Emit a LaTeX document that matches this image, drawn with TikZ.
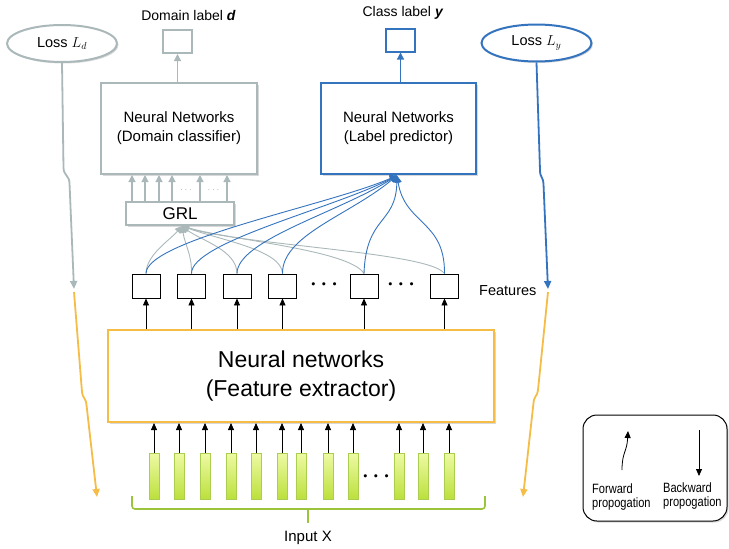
\documentclass[tikz,border=0pt]{standalone}
\usepackage{fontspec}
\setmainfont{Liberation Sans}
\usetikzlibrary{shapes.geometric, arrows.meta, shadows}
\definecolor{cgray}{RGB}{170,184,186}
\definecolor{cblue}{RGB}{52,115,190}
\definecolor{corange}{RGB}{245,188,70}
\definecolor{cgreen}{RGB}{155,195,60}
\definecolor{bartop}{RGB}{238,250,165}
\definecolor{barbot}{RGB}{188,224,60}
\definecolor{barline}{RGB}{172,206,80}
\newcommand\fsz[2]{\fontsize{#1}{#2}\selectfont}
\tikzset{
  shd/.style={drop shadow={shadow xshift=1.5pt, shadow yshift=-1.5pt, opacity=0.3}},
  lossgray/.style={ellipse, draw=cgray, line width=2pt, fill=white, shd, minimum width=110pt, minimum height=37pt, inner sep=0pt, font=\fsz{14.5}{16}},
  lossblue/.style={lossgray, draw=cblue},
  graybox/.style={rectangle, draw=cgray, line width=2pt, fill=white, shd, align=center, inner sep=0pt, font=\fsz{15}{19}},
  bluebox/.style={graybox, draw=cblue},
  smallgray/.style={rectangle, draw=cgray, line width=2pt, fill=white, minimum width=29pt, minimum height=23pt, inner sep=0pt},
  smallblue/.style={smallgray, draw=cblue},
  toptext/.style={font=\fsz{14}{16}, inner sep=0pt},
  featbox/.style={rectangle, draw=black, line width=0.9pt, fill=white, minimum width=28pt, minimum height=24pt, inner sep=0pt},
  orangebox/.style={rectangle, draw=corange, line width=2pt, fill=white, shd, align=center, inner sep=0pt, font=\fsz{23}{29}},
  inbar/.style={rectangle, draw=barline, line width=0.6pt, top color=bartop, bottom color=barbot, minimum width=10pt, minimum height=46pt, inner sep=0pt},
  garrow/.style={draw=cgray, line width=1.2pt, -{Triangle[width=7pt,length=7pt]}},
  gcurve/.style={draw=cgray, line width=0.9pt, -{Triangle[width=7pt,length=7pt]}},
  bcurve/.style={draw=cblue, line width=0.9pt, -{Triangle[width=7pt,length=7pt]}},
  barrow/.style={draw=cblue, line width=1.2pt, -{Triangle[width=7pt,length=7pt]}},
  karrow/.style={draw=black, line width=0.8pt, -{Triangle[width=6pt,length=7pt]}},
  lossline/.style={line width=1.8pt, line join=round, -{Triangle[width=7pt,length=8pt]}},
  dotsk/.style={font=\fsz{22}{22}\boldmath, inner sep=0pt},
  legendbox/.style={rectangle, draw=black, line width=1pt, fill=white, rounded corners=14pt, shd, minimum width=144pt, minimum height=106pt},
  legtext/.style={align=left, font=\fsz{13.5}{13.5}, xscale=0.82, inner sep=0pt, anchor=north west}
}
\begin{document}
\begin{tikzpicture}[x=1pt, y=-1pt]
\useasboundingbox (0,0) rectangle (729,549);

% losses
\node[lossgray] (Ld) at (62,43.5) {Loss $L_d$};
\node[lossblue] (Ly) at (536.5,43) {Loss $L_y$};

% top labels
\node[toptext] (dlab) at (188.5,15) {Domain label \textbf{\textit{d}}};
\node[smallgray] (dbox) at (177.5,41.5) {};
\node[toptext] (ylab) at (403,13) {Class label \textbf{\textit{y}}};
\node[smallblue] (ybox) at (400.5,40) {};

% classifiers
\node[graybox, minimum width=156pt, minimum height=91pt] (dc) at (179,128.5) {Neural Networks\\(Domain classifier)};
\node[bluebox, minimum width=155pt, minimum height=91pt] (lp) at (398.5,128.5) {Neural Networks\\(Label predictor)};
\draw[garrow] (dbox.south |- dc.north) -- (dbox.south);
\draw[barrow] (ybox.south |- lp.north) -- (ybox.south);

% GRL
\node[graybox, minimum width=108pt, minimum height=23pt, font=\fsz{17}{19}] (grl) at (180,213.5) {GRL};
\foreach \x in {132,145,159,172,200,227}
  \draw[garrow] (\x,0 |- grl.north) -- (\x,0 |- dc.south);
\node[font=\fsz{10}{10}, text=cgray, inner sep=0pt] (gd1) at (186,190) {$\cdots$};
\node[font=\fsz{10}{10}, text=cgray, inner sep=0pt] (gd2) at (213.5,190) {$\cdots$};

% feature boxes
\foreach \i/\x in {1/146,2/191.5,3/237,4/282.5,5/364,6/444.5}
  \node[featbox] (f\i) at (\x,286) {};
\node[dotsk] (fd1) at (324,285) {$\cdots$};
\node[dotsk] (fd2) at (401,285) {$\cdots$};
\node[font=\fsz{14.5}{16}, inner sep=0pt, anchor=west] (feat) at (479,291) {Features};

\coordinate (gtip) at (182,226);
\coordinate (ptip) at (397,175.5);

% gray curves to GRL
\draw[gcurve] (f1.north) .. controls (146,255) and (170,240) .. (gtip);
\draw[gcurve] (f2.north) .. controls (192,255) and (185,245) .. (gtip);
\draw[gcurve] (f3.north) .. controls (237,250) and (200,240) .. (gtip);
\draw[gcurve] (f4.north) .. controls (282,250) and (220,240) .. (gtip);
\draw[gcurve] (f5.north) .. controls (350,250) and (230,240) .. (gtip);
\draw[gcurve] (f6.north) .. controls (430,252) and (240,245) .. (gtip);

% blue curves to predictor
\draw[bcurve] (f1.north) .. controls (146,240) and (330,205) .. (ptip);
\draw[bcurve] (f2.north) .. controls (191,242) and (335,208) .. (ptip);
\draw[bcurve] (f3.north) .. controls (237,240) and (340,212) .. (ptip);
\draw[bcurve] (f4.north) .. controls (282,235) and (350,215) .. (ptip);
\draw[bcurve] (f5.north) .. controls (366,215) and (396,225) .. (ptip);
\draw[bcurve] (f6.north) .. controls (445,220) and (405,225) .. (ptip);

% feature extractor
\node[orangebox, minimum width=386pt, minimum height=92pt] (fe) at (301,376) {Neural networks\\(Feature extractor)};
\foreach \i in {1,...,6}
  \draw[karrow] (f\i.south |- fe.north) -- (f\i.south);

% input bars
\foreach \i/\x in {1/154,2/179,3/205,4/231,5/256,6/282,7/301,8/328,9/353,10/399,11/423,12/449}{
  \node[inbar] (b\i) at (\x,476) {};
  \draw[karrow] (b\i.north) -- (b\i.north |- fe.south);
}
\node[dotsk] (bd) at (376,477) {$\cdots$};

% brace
\node[font=\fsz{15}{16}, inner sep=0pt] (inx) at (308,538) {Input X};
\coordinate (brtip) at (308,523);
\draw[cgreen, line width=1.6pt, rounded corners=3pt] (132,496) -- (132,509) -- (485,509) -- (485,496);
\draw[cgreen, line width=1.6pt] (308,509) -- (brtip);

% loss lines
\coordinate (gl) at (74,289);
\coordinate (bl) at (548,289);
\coordinate (ol) at (97,497);
\coordinate (orr) at (523,497);
\draw[lossline, cgray] (Ld.south) -- (63.5,168) .. controls (64,176) and (69,175) .. (69.5,183) -- (gl);
\draw[lossline, cblue] (Ly.south) -- (540,170) .. controls (540,178) and (543,176) .. (543.5,184) -- (bl);
\draw[lossline, corange] (gl) ++(0,3) -- (82,392) .. controls (83,399) and (86,398) .. (86.5,405) -- (ol);
\draw[lossline, corange] (bl) ++(0,3) -- (538,390) .. controls (537,397) and (534,396) .. (533.5,403) -- (orr);

% legend
\node[legendbox] (leg) at (655,468) {};
\coordinate (fw0) at (622,470);
\coordinate (fw1) at (628,431);
\coordinate (bw0) at (699,430);
\coordinate (bw1) at (699,476);
\draw[karrow] (fw0) .. controls (622,452) and (627,452) .. (fw1);
\draw[karrow] (bw0) -- (bw1);
\node[legtext] (lf) at (592,484) {Forward\\propogation};
\node[legtext] (lb) at (663,483) {Backward\\propogation};
\end{tikzpicture}
\end{document}
